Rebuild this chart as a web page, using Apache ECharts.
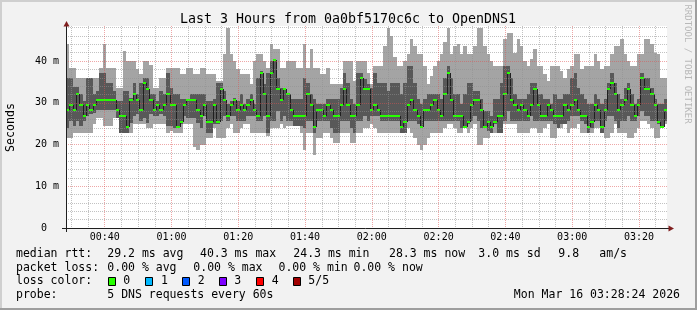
<!DOCTYPE html>
<html><head><meta charset="utf-8">
<script src="https://cdn.jsdelivr.net/npm/echarts@6/dist/echarts.min.js"></script>
<style>html,body{margin:0;padding:0;background:#f2f2f2}#c{width:697px;height:310px}</style>
</head><body><div id="c"></div><script>
// Time of the first step (minutes after 00:00) and step length (minutes)
const START_MIN = 28.4;
const STEP_MIN = 1;
const SPAN_MIN = 180;

// Smoke data (ms): min ping, 2nd ping, median, 4th ping, max ping per minute
const medVals = [
28.2,29.4,28.2,32.0,29.4,26.8,29.4,28.2,29.4,30.7,30.7,30.7,30.7,30.7,30.7,28.2,26.8,26.8,24.3,30.7,32.0,30.7,28.2,34.7,33.4,30.7,28.2,29.4,28.2,29.4,
32.0,29.4,29.4,24.3,25.4,29.4,30.7,30.7,30.7,28.2,26.8,29.4,25.4,25.4,29.4,25.4,33.4,30.7,26.8,29.4,30.7,28.2,29.4,28.2,29.4,30.7,28.2,26.8,37.2,32.0,
26.8,37.2,40.3,33.4,30.7,33.4,32.0,28.2,26.8,26.8,26.8,26.8,32.0,29.4,24.3,28.2,28.2,26.8,29.4,28.2,26.8,26.8,29.4,33.4,29.4,26.8,26.8,29.4,36.0,33.4,
33.4,28.2,29.4,28.2,26.8,26.8,26.8,26.8,26.8,26.8,24.3,25.4,29.4,30.7,28.2,26.8,24.3,28.2,28.2,29.4,30.7,28.2,26.8,32.0,37.2,30.7,26.8,26.8,26.8,24.3,
25.4,29.4,30.7,30.7,28.2,24.3,25.4,24.3,25.4,26.8,26.8,32.0,37.2,30.7,29.4,28.2,29.4,28.2,26.8,29.4,33.4,29.4,26.8,26.8,29.4,28.2,26.8,26.8,26.8,29.4,
28.2,29.4,30.7,28.2,26.8,26.8,24.3,25.4,29.4,28.2,24.3,28.2,33.4,34.7,32.0,28.2,29.4,30.7,33.4,29.4,26.8,29.4,36.0,33.4,33.4,32.0,29.4,25.4,24.3,28.3];
const p4Vals = [
36.0,36.0,33.8,33.8,32.0,30.4,36.0,36.0,32.0,32.8,37.2,37.2,34.8,34.8,32.8,30.4,30.4,32.8,32.8,31.2,34.8,32.0,34.8,36.0,36.0,32.0,32.0,30.4,32.8,32.0,
37.2,33.6,32.0,32.0,30.8,30.8,30.8,32.0,32.0,32.0,32.0,32.0,30.4,30.4,30.8,34.8,34.8,32.8,29.6,30.4,31.2,30.4,32.0,29.6,30.8,32.0,29.6,36.0,37.6,34.4,
37.2,40.0,40.4,36.0,33.6,33.6,32.0,30.8,30.8,30.8,30.8,36.0,34.8,32.0,30.8,29.6,29.6,29.6,30.8,30.8,30.8,30.8,33.6,37.2,34.8,30.8,29.6,37.2,37.2,35.6,
34.4,33.6,37.2,34.8,34.8,34.8,32.8,34.8,34.8,34.8,32.0,34.8,38.8,38.8,34.8,30.8,29.6,30.8,32.0,32.0,32.0,32.0,30.8,36.0,38.8,36.0,32.0,32.0,29.6,32.0,
34.8,34.8,32.8,32.8,30.8,28.0,28.0,26.8,30.8,30.8,34.8,38.8,38.8,36.0,32.0,30.8,30.8,30.8,32.0,34.8,34.8,32.0,32.0,30.8,30.8,29.6,32.0,30.8,30.8,32.0,
32.0,36.0,37.2,33.6,32.0,30.8,29.6,29.6,32.0,30.8,29.6,30.8,34.8,37.2,34.8,32.0,30.8,33.6,34.8,32.0,29.6,30.8,37.2,36.0,36.0,33.6,30.8,29.6,29.6,30.8];
const p2Vals = [
24.0,25.6,24.4,25.6,24.4,25.6,26.8,27.2,27.6,28.2,28.2,28.2,28.2,28.2,28.2,26.4,22.8,22.8,22.8,25.2,26.8,27.2,25.6,26.4,25.2,27.2,26.8,26.8,27.2,26.8,
24.4,24.4,24.0,24.0,24.8,26.8,26.4,26.4,26.4,25.2,24.0,26.8,22.8,22.8,24.8,24.8,25.6,26.8,25.6,26.8,26.8,25.6,25.6,25.6,26.8,26.8,26.8,25.6,25.6,26.8,
22.8,25.6,25.6,28.0,25.6,26.8,25.6,25.6,24.4,24.4,24.4,24.0,25.6,25.6,22.8,25.6,25.6,25.6,25.6,24.0,22.8,22.8,25.6,25.6,25.6,24.0,22.8,25.6,25.6,26.8,
25.6,26.8,26.8,26.8,25.6,25.6,25.6,25.6,25.6,25.6,22.8,22.8,25.6,25.6,25.6,24.8,24.0,25.6,25.6,25.6,25.6,25.6,25.6,25.6,25.6,25.6,25.6,25.6,24.0,24.0,
24.8,25.6,26.8,25.6,24.0,24.0,23.2,22.8,24.8,22.8,22.8,25.6,28.0,25.6,25.6,25.6,25.6,25.6,25.6,26.8,25.6,25.6,25.6,25.6,25.6,25.6,24.8,24.0,24.8,24.8,
25.6,26.8,26.8,26.8,25.6,24.8,22.8,24.0,25.6,25.6,22.8,25.6,26.8,26.8,25.6,24.0,25.6,25.6,26.8,25.6,25.6,26.8,28.0,26.8,26.8,25.6,25.6,24.8,24.0,25.6];
const minVals = [
21.6,21.6,22.8,22.8,22.8,22.8,22.8,22.8,24.8,26.4,26.4,24.4,24.4,24.4,26.4,26.4,22.8,22.8,22.8,22.8,24.8,24.8,24.8,24.8,24.0,24.0,24.8,24.8,24.8,24.8,
22.8,23.2,22.8,22.8,22.8,24.8,24.8,24.8,19.5,18.8,20.0,20.0,21.6,21.6,24.0,21.6,21.6,21.6,24.0,24.8,22.8,22.8,24.0,24.8,24.8,22.8,22.8,22.8,22.8,22.8,
22.0,24.0,24.0,24.0,24.8,24.0,24.4,24.4,24.4,24.4,22.8,18.8,22.8,22.8,17.6,21.6,21.6,22.8,22.8,21.6,20.4,20.4,22.8,22.8,22.8,20.4,20.4,22.8,22.8,24.0,
24.0,25.0,24.0,22.8,22.8,22.8,22.8,22.8,22.8,22.8,22.8,22.8,24.0,22.8,21.6,20.0,18.8,20.0,21.6,22.8,22.8,22.8,22.8,24.0,24.8,24.8,24.0,22.8,22.8,24.0,
22.8,24.0,24.8,20.0,20.0,21.6,21.6,22.8,22.8,22.8,22.8,24.8,24.8,24.8,24.8,22.8,22.8,22.8,22.8,24.0,24.0,22.8,22.8,24.0,24.8,21.6,21.6,24.0,24.0,24.8,
22.8,24.0,24.0,24.8,22.8,22.8,22.8,22.8,24.0,24.0,22.8,21.6,21.6,22.8,24.8,22.8,22.8,22.8,21.6,21.6,22.8,24.0,25.6,25.6,24.8,24.0,21.6,21.6,24.0,24.8];
const maxVals = [
44.0,38.4,38.4,36.0,36.0,36.0,36.0,36.0,36.0,36.0,38.4,44.0,38.4,38.4,38.4,33.6,33.6,42.5,40.0,40.0,40.0,38.0,36.8,40.0,40.0,39.0,33.6,33.6,36.0,36.0,
38.4,38.4,38.4,38.4,36.8,36.8,38.4,38.4,36.8,36.8,38.4,38.4,36.8,36.8,36.8,35.2,35.2,41.6,48.0,41.6,40.0,38.0,36.8,36.8,36.8,34.4,40.0,41.6,41.6,40.0,
38.4,44.0,42.8,42.8,38.4,38.4,40.0,40.0,40.0,38.4,38.4,44.0,38.4,42.8,38.4,38.4,36.8,36.8,38.4,34.4,34.4,34.4,34.4,40.0,40.0,40.0,35.2,40.0,40.0,40.0,
37.2,34.4,38.8,38.8,38.8,43.5,48.0,46.0,41.0,38.8,38.8,40.0,41.6,45.2,43.5,41.6,41.6,38.8,34.4,36.5,38.8,40.0,41.6,44.5,48.0,41.6,43.5,44.0,41.6,43.5,
41.6,41.6,43.5,48.0,48.0,43.5,41.6,40.0,38.8,38.8,38.8,45.2,46.8,46.8,42.0,45.2,43.5,40.0,38.8,40.5,42.8,38.8,38.8,37.0,35.2,38.8,38.8,38.8,37.5,36.0,
38.0,38.8,41.6,41.6,38.0,38.8,38.8,38.8,41.6,40.0,38.0,38.8,38.8,41.6,43.5,43.5,45.2,41.6,40.0,38.8,38.8,41.6,41.6,45.2,45.2,44.0,42.0,41.6,36.0,36.0];

// Axis settings
const Y_MAX = 48.4;
const Y_MAJOR = 10;
const X_MAJOR = 20;

// Legend content
const titleText = 'Last 3 Hours from 0a0bf5170c6c to OpenDNS1';
const lossLabels = ['0', '1', '2', '3', '4', '5/5'];
const lossColors = ['#26ff00', '#00b8ff', '#0059ff', '#7e00ff', '#ff0000', '#a10000'];
const row1 = [['median rtt:', 16], ['29.2 ms avg', 107.3], ['40.3 ms max', 200], ['24.3 ms min', 293.3], ['28.3 ms now', 389], ['3.0 ms sd', 478.3], ['9.8', 558.3], ['am/s', 599.3]];
const row2 = [['packet loss:', 16], ['0.00 % avg', 107.3], ['0.00 % max', 193.3], ['0.00 % min', 278.5], ['0.00 % now', 353.5]];
const row4 = [['probe:', 16], ['5 DNS requests every 60s', 107.3]];
const stampText = 'Mon Mar 16 03:28:24 2026';

const MONO = '"DejaVu Sans Mono", monospace';
const smokeData = medVals.map((m, k) => [START_MIN + k * STEP_MIN, minVals[k], p2Vals[k], m, p4Vals[k], maxVals[k], k > 0 ? medVals[k - 1] : m]);

function pad2(n) { return String(n).padStart(2, '0'); }
function minuteLabel(v) { const t = Math.round(v); return pad2(Math.floor(t / 60)) + ':' + pad2(t % 60); }

function renderItem(params, api) {
  const t = api.value(0);
  const xa = Math.round(api.coord([t, 0])[0]);
  const xb = Math.round(api.coord([t + STEP_MIN, 0])[0]);
  const Y = i => Math.round(api.coord([t, api.value(i)])[1]);
  const yMin = Y(1), yP2 = Y(2), yMed = Y(3), yP4 = Y(4), yMax = Y(5), yPrev = Y(6);
  return {
    type: 'group',
    children: [
      { type: 'rect', shape: { x: xa, y: yMax, width: xb - xa, height: yMin - yMax }, style: { fill: '#a4a4a4' } },
      { type: 'rect', shape: { x: xa, y: yP4, width: xb - xa, height: yP2 - yP4 }, style: { fill: '#585858' } },
      { type: 'line', shape: { x1: xa + 0.5, y1: yPrev, x2: xa + 0.5, y2: yMed }, style: { stroke: '#202020', lineWidth: 1 } },
      { type: 'rect', shape: { x: xa, y: yMed - 1, width: xb - xa, height: 2 }, style: { fill: lossColors[0] } }
    ]
  };
}

const graphics = [];
// 3D border
graphics.push({ type: 'rect', shape: { x: 0, y: 0, width: 697, height: 2 }, style: { fill: '#cfcfcf' } });
graphics.push({ type: 'rect', shape: { x: 0, y: 0, width: 2, height: 310 }, style: { fill: '#cfcfcf' } });
graphics.push({ type: 'rect', shape: { x: 0, y: 308, width: 697, height: 2 }, style: { fill: '#9e9e9e' } });
graphics.push({ type: 'rect', shape: { x: 695, y: 0, width: 2, height: 310 }, style: { fill: '#9e9e9e' } });
// title
graphics.push({ type: 'text', x: 348, y: 19.5, style: { text: titleText, font: '13.3px ' + MONO, fill: '#000', align: 'center', verticalAlign: 'middle' } });
// watermark
graphics.push({ type: 'text', x: 687.5, y: 64, rotation: -Math.PI / 2, style: { text: 'RRDTOOL / TOBI OETIKER', font: '9px ' + MONO, fill: '#b8b8b8', align: 'center', verticalAlign: 'middle' } });
// y axis title
graphics.push({ type: 'text', x: 10.5, y: 127.5, rotation: Math.PI / 2, style: { text: 'Seconds', font: '11.6px ' + MONO, fill: '#000', align: 'center', verticalAlign: 'middle' } });
// legend rows
const legFont = '11.5px ' + MONO;
row1.forEach(([s, x]) => graphics.push({ type: 'text', x: x, y: 254.5, style: { text: s, font: legFont, fill: '#000', align: 'left', verticalAlign: 'middle' } }));
row2.forEach(([s, x]) => graphics.push({ type: 'text', x: x, y: 268, style: { text: s, font: legFont, fill: '#000', align: 'left', verticalAlign: 'middle' } }));
graphics.push({ type: 'text', x: 16, y: 281.5, style: { text: 'loss color:', font: legFont, fill: '#000', align: 'left', verticalAlign: 'middle' } });
const boxX = [108.5, 145.5, 182.5, 219.5, 256.5, 293.5];
const labX = [123.3, 161, 197.7, 234.3, 271.7, 308.3];
lossLabels.forEach((lab, i) => {
  graphics.push({ type: 'rect', shape: { x: boxX[i], y: 277.5, width: 7, height: 8 }, style: { fill: lossColors[i], stroke: '#000', lineWidth: 1 } });
  graphics.push({ type: 'text', x: labX[i], y: 281.5, style: { text: lab, font: legFont, fill: '#000', align: 'left', verticalAlign: 'middle' } });
});
row4.forEach(([s, x]) => graphics.push({ type: 'text', x: x, y: 295.5, style: { text: s, font: legFont, fill: '#000', align: 'left', verticalAlign: 'middle' } }));
graphics.push({ type: 'text', x: 680, y: 295.5, style: { text: stampText, font: legFont, fill: '#000', align: 'right', verticalAlign: 'middle' } });
// axis arrows and extensions
graphics.push({ type: 'line', z: 20, shape: { x1: 62, y1: 228.5, x2: 669, y2: 228.5 }, style: { stroke: '#1f1f1f', lineWidth: 1 } });
graphics.push({ type: 'line', z: 20, shape: { x1: 66.5, y1: 24, x2: 66.5, y2: 232 }, style: { stroke: '#1f1f1f', lineWidth: 1 } });
graphics.push({ type: 'polygon', z: 21, shape: { points: [[66.5, 21], [63.5, 26.5], [69.5, 26.5]] }, style: { fill: '#801f1f' } });
graphics.push({ type: 'polygon', z: 21, shape: { points: [[674, 228.5], [668.5, 225.5], [668.5, 231.5]] }, style: { fill: '#801f1f' } });

const chart = echarts.init(document.getElementById('c'), null, { renderer: 'canvas' });
const minorLine = { color: 'rgba(143,143,143,0.55)', type: [1, 1], width: 1 };
const majorLine = { color: 'rgba(222,79,79,0.5)', type: [1, 1], width: 1 };
chart.setOption({
  animation: false,
  backgroundColor: '#f2f2f2',
  grid: { left: 66, top: 26, width: 601, height: 202, show: true, backgroundColor: '#ffffff', borderWidth: 0, containLabel: false },
  xAxis: {
    type: 'value', min: START_MIN, max: START_MIN + SPAN_MIN, splitNumber: 9, minInterval: X_MAJOR, maxInterval: X_MAJOR, z: 5,
    axisLine: { show: false },
    axisTick: { show: false },
    axisLabel: { color: '#000', fontFamily: MONO, fontSize: 10, margin: 4, showMinLabel: false, showMaxLabel: false,
      formatter: v => (Math.abs(v / X_MAJOR - Math.round(v / X_MAJOR)) < 1e-6 ? minuteLabel(v) : '') },
    splitLine: { show: true, showMinLine: false, showMaxLine: false, lineStyle: majorLine },
    minorTick: { show: false, splitNumber: 4 },
    minorSplitLine: { show: true, lineStyle: minorLine }
  },
  yAxis: {
    type: 'value', min: 0, max: Y_MAX, interval: Y_MAJOR, z: 5,
    axisLine: { show: false },
    axisTick: { show: false },
    axisLabel: { color: '#000', fontFamily: MONO, fontSize: 10, margin: 7, showMaxLabel: false,
      formatter: v => (v % Y_MAJOR === 0 ? (v === 0 ? '0  ' : v + ' m') : '') },
    splitLine: { show: true, showMinLine: false, showMaxLine: false, lineStyle: majorLine },
    minorTick: { show: false, splitNumber: 5 },
    minorSplitLine: { show: true, lineStyle: minorLine }
  },
  series: [{
    type: 'custom', z: 2, silent: true, clip: true,
    renderItem: renderItem,
    encode: { x: 0, y: [1, 2, 3, 4, 5] },
    data: smokeData
  }],
  graphic: graphics
});
</script></body></html>
